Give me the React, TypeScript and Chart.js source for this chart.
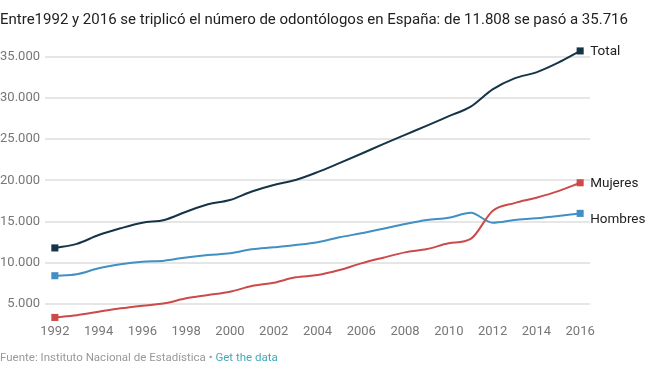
import React, { useEffect, useRef } from "react";
import { Chart, registerables } from "chart.js";

Chart.register(...registerables);

const titleText =
  "Entre1992 y 2016 se triplicó el número de odontólogos en España: de 11.808 se pasó a 35.716";
const sourceText = "Fuente: Instituto Nacional de Estadística";
const linkText = "Get the data";

const years = [
  1992, 1993, 1994, 1995, 1996, 1997, 1998, 1999, 2000, 2001, 2002, 2003, 2004,
  2005, 2006, 2007, 2008, 2009, 2010, 2011, 2012, 2013, 2014, 2015, 2016,
];
const total = [
  11808, 12300, 13370, 14190, 14870, 15200, 16200, 17100, 17620, 18650, 19440,
  20050, 21000, 22100, 23240, 24400, 25530, 26650, 27800, 28950, 31050, 32390,
  33120, 34290, 35716,
];
const mujeres = [
  3373, 3650, 4070, 4475, 4800, 5085, 5690, 6090, 6490, 7180, 7585, 8240, 8520,
  9126, 9935, 10620, 11270, 11670, 12365, 12900, 16300, 17250, 17900, 18700,
  19716,
];
const hombres = [
  8435, 8600, 9330, 9815, 10135, 10260, 10660, 10950, 11150, 11640, 11880, 12150,
  12490, 13100, 13580, 14140, 14710, 15190, 15470, 16080, 14870, 15190, 15400,
  15680, 16000,
];
const seriesNames = ["Total", "Mujeres", "Hombres"];
const seriesColors = ["#163447", "#cc4a4a", "#4190c4"];
const xTickYears = [
  1992, 1994, 1996, 1998, 2000, 2002, 2004, 2006, 2008, 2010, 2012, 2014, 2016,
];
const yTickValues = [5000, 10000, 15000, 20000, 25000, 30000, 35000];

const fmt = (v: number) =>
  String(Math.round(v)).replace(/\B(?=(\d{3})+(?!\d))/g, ".");

const endLabels = {
  id: "endLabels",
  afterDatasetsDraw(chart: any) {
    const ctx = chart.ctx;
    const items: { y: number; x: number; text: string }[] = [];
    chart.data.datasets.forEach((ds: any, i: number) => {
      const meta = chart.getDatasetMeta(i);
      const pt = meta.data[meta.data.length - 1];
      items.push({ x: pt.x, y: pt.y, text: ds.label });
    });
    const sorted = [...items].sort((a, b) => a.y - b.y);
    const minGap = 36;
    for (let k = 1; k < sorted.length; k++) {
      if (sorted[k].y - sorted[k - 1].y < minGap) {
        sorted[k].y = sorted[k - 1].y + minGap;
      }
    }
    ctx.save();
    ctx.font = "13.5px Roboto";
    ctx.fillStyle = "#222";
    ctx.textBaseline = "middle";
    ctx.textAlign = "left";
    sorted.forEach((it) => {
      ctx.fillText(it.text, it.x + 10, it.y + 1);
    });
    ctx.restore();
  },
};

export default function App() {
  const ref = useRef<HTMLCanvasElement | null>(null);

  useEffect(() => {
    if (!ref.current) return;
    const series = [total, mujeres, hombres];
    const chart = new Chart(ref.current, {
      type: "line",
      data: {
        labels: years,
        datasets: series.map((vals, i) => ({
          label: seriesNames[i],
          data: vals.map((v, j) => ({ x: years[j], y: v })),
          borderColor: seriesColors[i],
          backgroundColor: seriesColors[i],
          borderWidth: 2,
          cubicInterpolationMode: "monotone" as const,
          pointStyle: "rect" as const,
          pointRadius: vals.map((_, j) => (j === 0 || j === vals.length - 1 ? 5 : 0)),
          pointBorderWidth: 0,
          pointHoverRadius: 0,
          clip: false as any,
        })),
      },
      options: {
        responsive: false,
        animation: false,
        devicePixelRatio: 1,
        layout: { padding: { top: 48.6, right: 64, left: 0, bottom: 0 } },
        plugins: {
          legend: { display: false },
          tooltip: { enabled: false },
          title: { display: false },
        },
        scales: {
          x: {
            type: "linear",
            min: 1991.55,
            max: 2016.45,
            afterBuildTicks: (scale: any) => {
              scale.ticks = xTickYears.map((v) => ({ value: v }));
            },
            afterFit: (scale: any) => {
              scale.height = 46.5;
            },
            grid: { display: false, drawTicks: false },
            border: { display: false },
            ticks: {
              autoSkip: false,
              maxRotation: 0,
              padding: 3,
              color: "#777",
              font: { family: "Roboto", size: 13 },
              callback: (v: any) => String(v),
            },
          },
          y: {
            type: "linear",
            min: 3000,
            max: 36000,
            afterBuildTicks: (scale: any) => {
              scale.ticks = yTickValues.map((v) => ({ value: v }));
            },
            afterFit: (scale: any) => {
              scale.width = 45;
            },
            grid: { color: "#e6e6e6", lineWidth: 2, drawTicks: false },
            border: { display: false },
            ticks: {
              padding: 5,
              color: "#777",
              font: { family: "Roboto", size: 13 },
              callback: (v: any) => fmt(Number(v)),
            },
          },
        },
      },
      plugins: [endLabels],
    });
    return () => chart.destroy();
  }, []);

  return (
    <div
      style={{
        position: "absolute",
        left: 0,
        top: 0,
        width: 654,
        height: 367,
        background: "#fff",
        overflow: "hidden",
        fontFamily: "Roboto, sans-serif",
      }}
    >
      <canvas
        ref={ref}
        width={654}
        height={367}
        style={{ position: "absolute", left: 0, top: 0, width: 654, height: 367 }}
      />
      <div
        style={{
          position: "absolute",
          left: 0,
          top: 10,
          fontSize: 15,
          lineHeight: "18px",
          color: "#222",
          whiteSpace: "nowrap",
        }}
      >
        {titleText}
      </div>
      <div
        style={{
          position: "absolute",
          left: 0,
          top: 350,
          fontSize: 11.5,
          lineHeight: "14px",
          color: "#999",
          whiteSpace: "nowrap",
        }}
      >
        {sourceText} <span style={{ color: "#999" }}>•</span>{" "}
        <span style={{ color: "#44a7b8" }}>{linkText}</span>
      </div>
    </div>
  );
}
